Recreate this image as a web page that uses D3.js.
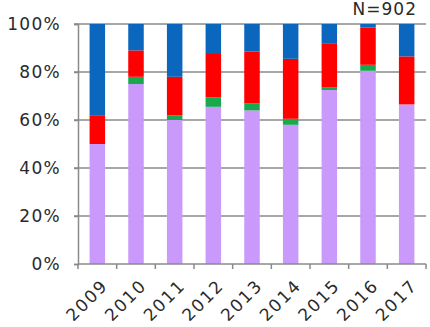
<!DOCTYPE html>
<html>
<head>
<meta charset="utf-8">
<script src="https://cdn.jsdelivr.net/npm/d3@7"></script>
<style>
  html, body { margin: 0; padding: 0; background: #fff; }
  svg { display: block; font-family: "DejaVu Sans", sans-serif; }
</style>
</head>
<body>
<svg id="chart" width="430" height="327"></svg>
<script>
// Survey years and the share (%) of each response group, stacked bottom to top
const years = ["2009", "2010", "2011", "2012", "2013", "2014", "2015", "2016", "2017"];
const purple = [50, 75, 60, 65.5, 64, 58, 72.5, 80.5, 66.5];
const green  = [0, 3, 2, 4, 3, 2.5, 1, 2.5, 0];
const red    = [12, 11, 16, 18, 21.5, 25, 18.5, 15.5, 20];
const blue   = [38, 11, 22, 12.5, 11.5, 14.5, 8, 1.5, 13.5];
const yTicks = [0, 20, 40, 60, 80, 100];
const sampleNote = "N=902";

const seriesKeys = ["purple", "green", "red", "blue"];
const seriesColors = { purple: "#c999fb", green: "#1aa84f", red: "#ff0000", blue: "#0b66bd" };
const table = years.map((y, i) => ({ year: y, purple: purple[i], green: green[i], red: red[i], blue: blue[i] }));

const svg = d3.select("#chart");
const margin = { left: 78, right: 4, top: 24, bottom: 63 };
const W = 430, H = 327;
const barWidth = 15.5;
const textColor = "#2a2a2a";

const xb = d3.scaleBand().domain(years).range([margin.left, W - margin.right]);
const y = d3.scaleLinear().domain([0, 100]).range([H - margin.bottom, margin.top]);

// Horizontal gridlines
svg.append("g")
  .selectAll("line")
  .data(yTicks.filter(t => t > 0))
  .join("line")
  .attr("x1", margin.left - 4).attr("x2", W - margin.right)
  .attr("y1", d => y(d)).attr("y2", d => y(d))
  .attr("stroke", "#8a8a8a").attr("stroke-width", 1.5);

// Stacked bars
const stacked = d3.stack().keys(seriesKeys)(table);
svg.append("g")
  .selectAll("g")
  .data(stacked)
  .join("g")
  .attr("fill", d => seriesColors[d.key])
  .selectAll("rect")
  .data(d => d)
  .join("rect")
  .attr("x", d => xb(d.data.year) + (xb.bandwidth() - barWidth) / 2)
  .attr("width", barWidth)
  .attr("y", d => y(d[1]))
  .attr("height", d => y(d[0]) - y(d[1]));

// Y axis
const yAxis = svg.append("g")
  .attr("transform", `translate(${margin.left},0)`)
  .call(d3.axisLeft(y).tickValues(yTicks).tickFormat(d => d + "%").tickSize(4).tickPadding(13));
yAxis.select(".domain").attr("stroke", "#8a8a8a").attr("stroke-width", 1.5);
yAxis.selectAll(".tick line").attr("stroke", "#8a8a8a").attr("stroke-width", 1.5);
yAxis.selectAll("text")
  .attr("font-size", 17)
  .attr("letter-spacing", "1.3px")
  .attr("fill", textColor)
  .attr("font-family", "DejaVu Sans, sans-serif");

// X axis: ticks on band boundaries
const xAxisG = svg.append("g").attr("transform", `translate(0,${H - margin.bottom})`);
xAxisG.append("line")
  .attr("x1", margin.left).attr("x2", W - margin.right)
  .attr("stroke", "#8a8a8a").attr("stroke-width", 1.5);
xAxisG.selectAll("line.tk")
  .data(years.map(d => xb(d)).concat([W - margin.right]))
  .join("line").attr("class", "tk")
  .attr("x1", d => d).attr("x2", d => d)
  .attr("y1", 0).attr("y2", 5)
  .attr("stroke", "#8a8a8a").attr("stroke-width", 1.5);
xAxisG.selectAll("text")
  .data(years)
  .join("text")
  .attr("transform", d => `translate(${xb(d) + xb.bandwidth() / 2 + 3},${14}) rotate(-45)`)
  .attr("text-anchor", "end")
  .attr("dy", "0.72em")
  .attr("font-size", 17)
  .attr("letter-spacing", "1.8px")
  .attr("fill", textColor)
  .text(d => d);

// Sample size note
svg.append("text")
  .attr("x", 417).attr("y", 15)
  .attr("text-anchor", "end")
  .attr("font-size", 17)
  .attr("letter-spacing", "1px")
  .attr("fill", textColor)
  .text(sampleNote);
</script>
</body>
</html>
